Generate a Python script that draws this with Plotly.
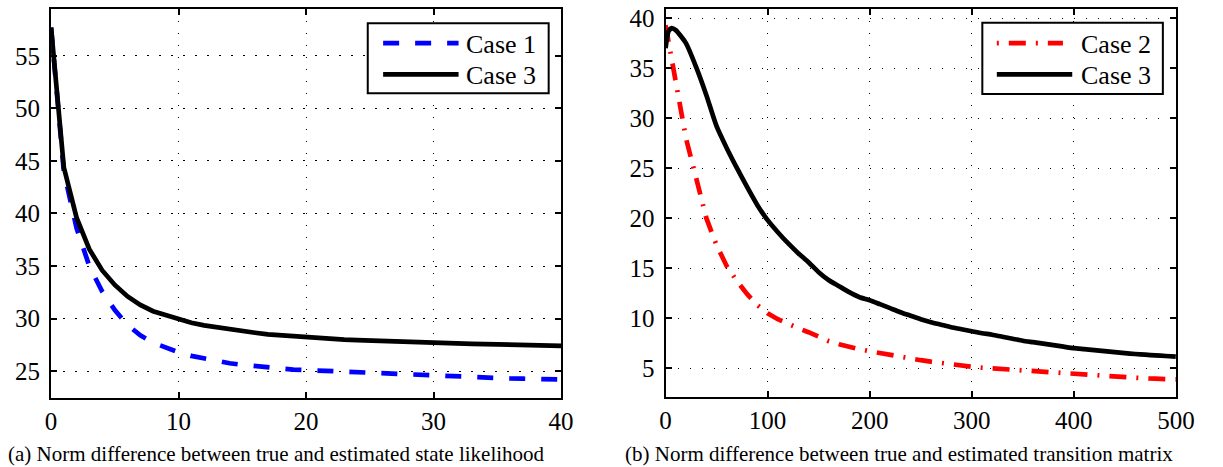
import plotly.graph_objects as go

W, H = 1223, 467

# ---------------- data ----------------
# (a) state likelihood
iter_a = list(range(0, 41))
case1_a = [57.7, 44.0, 38.6, 35.0, 32.6, 30.8, 29.4, 28.4, 27.7, 27.2,
           26.8, 26.45, 26.2, 25.95, 25.75, 25.6, 25.45, 25.35, 25.25, 25.15,
           25.1, 25.0, 24.95, 24.85, 24.8, 24.75, 24.7, 24.65, 24.6, 24.55,
           24.5, 24.45, 24.42, 24.4, 24.37, 24.33, 24.3, 24.28, 24.25, 24.23,
           24.2]
case3_a = [57.7, 44.4, 39.6, 36.6, 34.6, 33.2, 32.1, 31.3, 30.7, 30.3,
           29.9, 29.6, 29.35, 29.15, 28.95, 28.8, 28.65, 28.5, 28.4, 28.3,
           28.2, 28.12, 28.05, 28.0, 27.95, 27.9, 27.85, 27.82, 27.78, 27.74,
           27.7, 27.66, 27.63, 27.6, 27.57, 27.54, 27.51, 27.48, 27.45, 27.42,
           27.4]

# (b) transition matrix
iter_b = [0, 10, 20, 30, 40, 50, 60, 70, 80, 90,
          100, 110, 120, 130, 140, 150, 160, 170, 180, 190,
          200, 210, 220, 230, 240, 250, 260, 270, 280, 290,
          300, 310, 320, 330, 340, 350, 360, 370, 380, 390,
          400, 410, 420, 430, 440, 450, 460, 470, 480, 490, 500]
case2_b = [39.3, 33.5, 28.0, 24.0, 20.0, 17.3, 15.2, 13.7, 12.4, 11.3,
           10.5, 9.9, 9.4, 9.0, 8.6, 8.1, 7.7, 7.4, 7.1, 6.9,
           6.7, 6.5, 6.3, 6.1, 5.95, 5.8, 5.65, 5.5, 5.4, 5.28,
           5.15, 5.05, 4.98, 4.9, 4.82, 4.73, 4.65, 4.58, 4.5, 4.43,
           4.38, 4.3, 4.25, 4.18, 4.12, 4.07, 4.02, 3.98, 3.95, 3.92, 3.88]
iter_b3 = [0, 3, 6, 10, 20, 30, 40, 50, 60, 70, 80, 90,
           100, 110, 120, 130, 140, 150, 160, 170, 180, 190,
           200, 210, 220, 230, 240, 250, 260, 270, 280, 290,
           300, 310, 320, 330, 340, 350, 360, 370, 380, 390,
           400, 410, 420, 430, 440, 450, 460, 470, 480, 490, 500]
case3_b = [37.0, 38.7, 39.0, 38.8, 37.5, 35.1, 32.3, 29.2, 27.0, 25.0, 23.1, 21.3,
           19.8, 18.6, 17.5, 16.5, 15.6, 14.6, 13.8, 13.2, 12.6, 12.1,
           11.8, 11.4, 11.0, 10.6, 10.25, 9.9, 9.6, 9.35, 9.1, 8.9,
           8.7, 8.5, 8.35, 8.15, 7.95, 7.75, 7.6, 7.45, 7.3, 7.15,
           7.0, 6.9, 6.8, 6.7, 6.6, 6.5, 6.42, 6.35, 6.28, 6.22, 6.15]

ticks_xa = [0, 10, 20, 30, 40]
ticks_ya = [25, 30, 35, 40, 45, 50, 55]
ticks_xb = [0, 100, 200, 300, 400, 500]
ticks_yb = [5, 10, 15, 20, 25, 30, 35, 40]

captions = ["(a) Norm difference between true and estimated state likelihood",
            "(b) Norm difference between true and estimated transition matrix"]

# ---------------- helpers ----------------
def px(x):
    return x / W

def py(y):
    return 1 - y / H

FONT = "Liberation Serif"
LW = 4.7
DASH_BLUE = "16px,16px"
DASH_RED = "17px,10px,2px,10px"

fig = go.Figure()
fig.add_trace(go.Scatter(x=iter_a, y=case1_a, mode="lines", xaxis="x", yaxis="y",
                         line=dict(color="#0000ff", width=LW, dash=DASH_BLUE),
                         showlegend=False))
fig.add_trace(go.Scatter(x=iter_a, y=case3_a, mode="lines", xaxis="x", yaxis="y",
                         line=dict(color="black", width=LW), showlegend=False))
fig.add_trace(go.Scatter(x=iter_b, y=case2_b, mode="lines", xaxis="x2", yaxis="y2",
                         line=dict(color="#ff0000", width=LW, dash=DASH_RED),
                         showlegend=False))
fig.add_trace(go.Scatter(x=iter_b3, y=case3_b, mode="lines", xaxis="x2", yaxis="y2",
                         line=dict(color="black", width=LW, shape="spline", smoothing=0.6),
                         showlegend=False))

axis_common = dict(showline=True, linecolor="black", linewidth=2, mirror="ticks",
                   ticks="inside", ticklen=6, tickwidth=1.5, tickcolor="black",
                   showgrid=True, gridcolor="black", gridwidth=1, griddash="1.5px,10.5px",
                   zeroline=False, tickfont=dict(family=FONT, size=25, color="black"),
                   fixedrange=True)

fig.update_layout(
    width=W, height=H,
    margin=dict(l=0, r=0, t=0, b=0),
    paper_bgcolor="white", plot_bgcolor="white",
    font=dict(family=FONT, color="black"),
    xaxis=dict(domain=[px(46), px(566.7)], range=[0, 40], tickvals=ticks_xa,
               anchor="y", **axis_common),
    yaxis=dict(domain=[py(397), py(5)], range=[22.48, 59.46], tickvals=ticks_ya,
               anchor="x", ticklabelstandoff=4, **axis_common),
    xaxis2=dict(domain=[px(673.3), px(1194.3)], range=[0, 500], tickvals=ticks_xb,
                anchor="y2", **axis_common),
    yaxis2=dict(domain=[py(396.7), py(5)], range=[2.09, 40.92], tickvals=ticks_yb,
                anchor="x2", ticklabelstandoff=4, **axis_common),
)

shapes = []
annotations = []

def legend(box, rows):
    x0, y0, x1, y1 = box
    shapes.append(dict(type="rect", xref="paper", yref="paper",
                       x0=px(x0), x1=px(x1), y0=py(y0), y1=py(y1),
                       line=dict(color="black", width=2), fillcolor="white", layer="above"))
    for (lx0, lx1, ly, color, dash, label, tx) in rows:
        shapes.append(dict(type="line", xref="paper", yref="paper",
                           x0=px(lx0), x1=px(lx1), y0=py(ly), y1=py(ly),
                           line=dict(color=color, width=LW, dash=dash), layer="above"))
        annotations.append(dict(text=label, xref="paper", yref="paper",
                                x=px(tx), y=py(ly + 1), xanchor="left", yanchor="middle",
                                showarrow=False,
                                font=dict(family=FONT, size=26, color="black")))

legend((369.3, 19.3, 554, 90),
       [(385, 462, 39.5, "#0000ff", DASH_BLUE, "Case 1", 468),
        (385, 462, 71, "black", "solid", "Case 3", 468)])
legend((996.7, 19, 1181, 90.7),
       [(1011.5, 1079, 39.5, "#ff0000", "2px,10px,17px,10px", "Case 2", 1095),
        (1011.5, 1088.5, 71, "black", "solid", "Case 3", 1095)])

annotations.append(dict(text=captions[0], xref="paper", yref="paper",
                        x=px(0), y=py(454), xanchor="left", yanchor="middle",
                        showarrow=False, font=dict(family=FONT, size=21, color="black")))
annotations.append(dict(text=captions[1], xref="paper", yref="paper",
                        x=px(630), y=py(454), xanchor="left", yanchor="middle",
                        showarrow=False, font=dict(family=FONT, size=21, color="black")))

fig.update_layout(shapes=shapes, annotations=annotations)

fig.write_html("out.html")
